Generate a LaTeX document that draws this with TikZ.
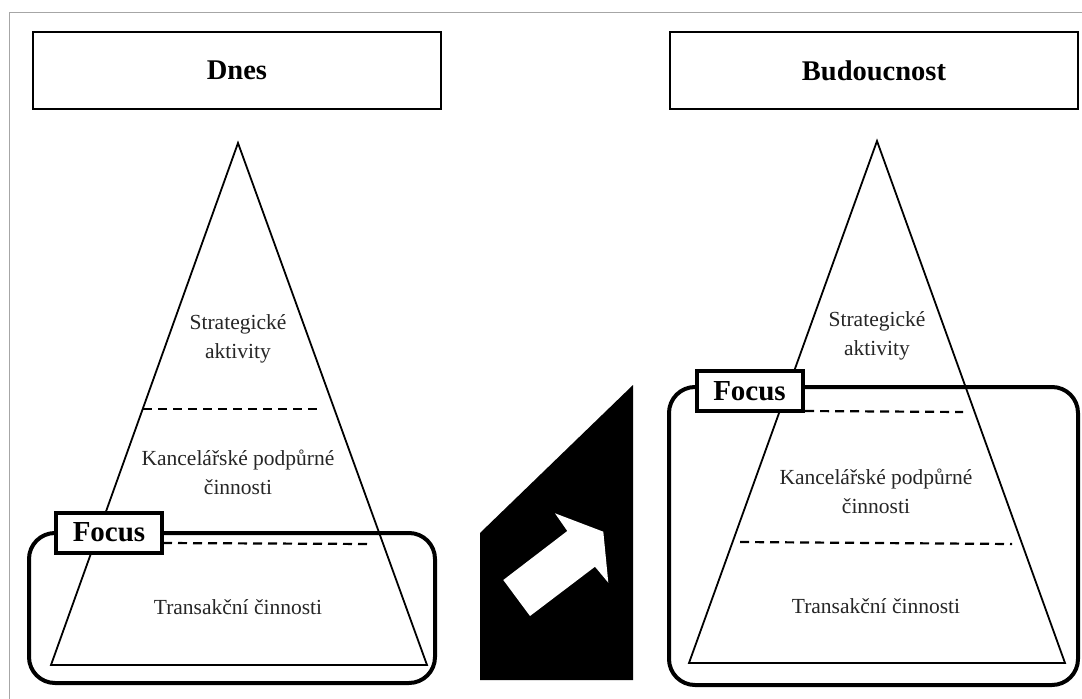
\documentclass[tikz,border=0pt]{standalone}
\usepackage{fontspec}
\setmainfont{Liberation Serif}
\begin{document}
\begin{tikzpicture}[x=1pt,y=-1pt,
  titlebox/.style={draw=black,line width=2.4pt,fill=white,minimum width=408pt,minimum height=77pt,inner sep=0pt,font=\fontsize{28.5}{32}\selectfont\bfseries},
  focusbox/.style={draw=black,line width=4pt,rounded corners=26pt},
  focuslabel/.style={draw=black,line width=4pt,fill=white,minimum width=106pt,minimum height=40pt,inner sep=0pt,font=\fontsize{29}{32}\selectfont\bfseries},
  pyr/.style={draw=black,line width=1.8pt,line join=miter},
  sep/.style={draw=black,line width=2.2pt,dash pattern=on 9pt off 6pt},
  lvl/.style={align=center,text=black!85,font=\fontsize{21.5}{29}\selectfont,inner sep=0pt}]
\useasboundingbox (0,0) rectangle (1082,699);
\fill[white] (0,0) rectangle (1082,699);
\draw[gray!70,line width=1pt] (9,699) -- (9,12) -- (1082,12);
% titles
\node[titlebox] (tL) at (237,70.5) {Dnes};
\node[titlebox] (tR) at (874,70.5) {Budoucnost};
% left pyramid
\coordinate (aL) at (238,143);
\coordinate (bL1) at (51,665);
\coordinate (bL2) at (427,665);
\draw[focusbox] (29,533) rectangle (435,683);
\draw[pyr] (aL) -- (bL1) -- (bL2) -- cycle;
\draw[sep] (143,409) -- (320,409);
\draw[sep] (163,543) -- (370,544);
\node[lvl] (sL) at (238,339) {Strategické\\aktivity};
\node[lvl] (kL) at (238,472) {Kancelářské podpůrné\\činnosti};
\node[lvl] (trL) at (238,607) {Transakční činnosti};
\node[focuslabel] (fL) at (109,532.5) {Focus};
% right pyramid
\coordinate (aR) at (877,141);
\coordinate (bR1) at (689,663);
\coordinate (bR2) at (1065,663);
\draw[focusbox] (669,387) rectangle (1078,685);
\draw[pyr] (aR) -- (bR1) -- (bR2) -- cycle;
\draw[sep] (805,411) -- (963,412);
\draw[sep] (740,542) -- (1012,544);
\node[lvl] (sR) at (877,336) {Strategické\\aktivity};
\node[lvl] (kR) at (876,491) {Kancelářské podpůrné\\činnosti};
\node[lvl] (trR) at (876,606) {Transakční činnosti};
\node[focuslabel] (fR) at (749.5,391) {Focus};
% middle arrow
\fill[black] (480,533) -- (633,385) -- (633,680) -- (480,680) -- cycle;
\fill[white] (503.3,580) -- (567.3,531) -- (555,513.3) -- (603.3,531.7) -- (608.3,582.7) -- (595,566.7) -- (530,616) -- cycle;
\end{tikzpicture}
\end{document}
